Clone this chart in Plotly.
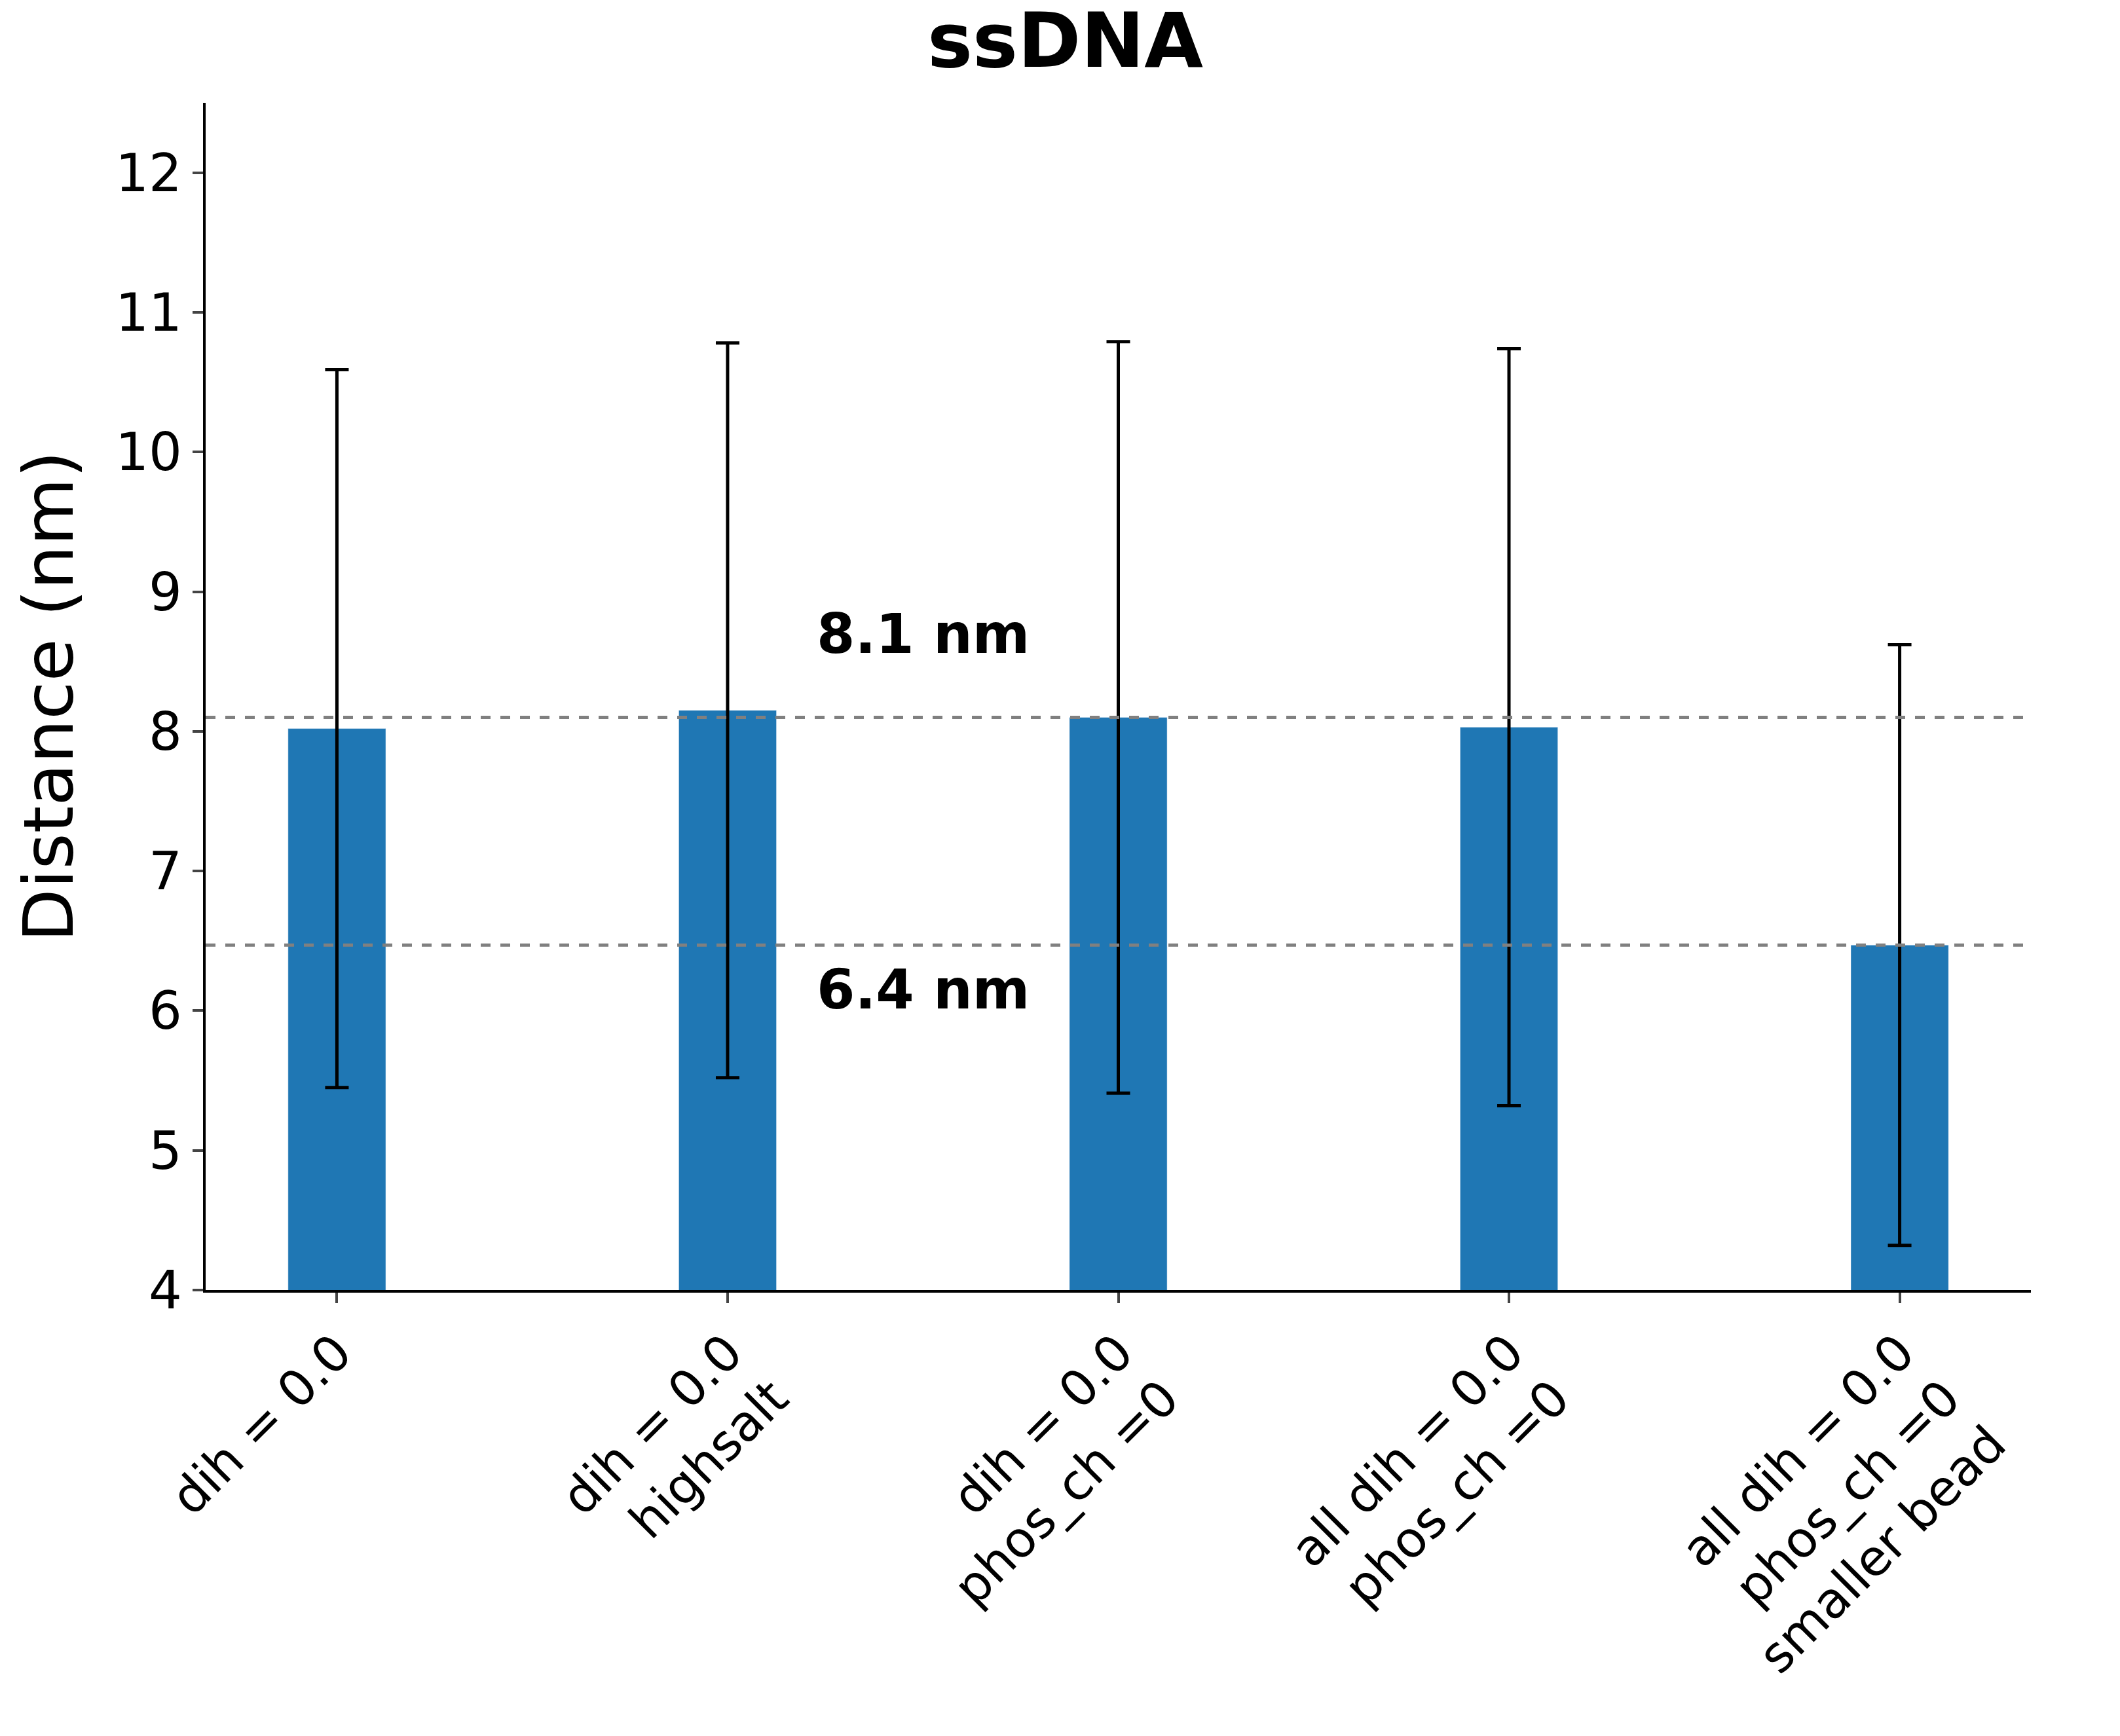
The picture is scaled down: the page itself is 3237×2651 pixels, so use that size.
import plotly.graph_objects as go

categories = ["dih = 0.0", "dih = 0.0<br>highsalt", "dih = 0.0<br>phos_ch =0",
              "all dih = 0.0<br>phos_ch =0", "all dih = 0.0<br>phos_ch =0<br>smaller bead"]
means = [8.02, 8.15, 8.10, 8.03, 6.47]
errors = [2.57, 2.63, 2.69, 2.71, 2.15]
ref_lines = [8.1, 6.47]
ref_labels = ["8.1 nm", "6.4 nm"]
ref_label_y = [8.7, 6.15]

xs = list(range(len(categories)))
font = "DejaVu Sans"

fig = go.Figure()
fig.add_trace(go.Bar(
    x=xs, y=means, width=0.25, marker_color="#1f77b4",
    error_y=dict(type="data", array=errors, color="black", thickness=5, width=18),
))
for y in ref_lines:
    fig.add_hline(y=y, line_dash="dash", line_color="grey", line_width=5)
for t, y in zip(ref_labels, ref_label_y):
    fig.add_annotation(x=1.5, y=y, text="<b>%s</b>" % t, showarrow=False,
                       font=dict(size=84, color="black", family=font))

fig.update_layout(
    width=3237, height=2651,
    margin=dict(l=306, r=144, t=149, b=689),
    plot_bgcolor="white", paper_bgcolor="white",
    title=dict(text="<b>ssDNA</b>", x=0.5, xanchor="center", y=0.995, yanchor="top",
               font=dict(size=116, family=font, color="black")),
    font=dict(family=font, color="black"),
    showlegend=False,
)
fig.update_xaxes(range=[-0.336, 4.336], tickvals=xs, ticktext=categories, tickangle=-45,
                 tickfont=dict(size=76), showline=True, linecolor="black", linewidth=4,
                 ticks="outside", ticklen=16, tickwidth=4, showgrid=False)
fig.update_yaxes(range=[4, 12.5], dtick=1, tickfont=dict(size=80), showline=True,
                 linecolor="black", linewidth=4, ticks="outside", ticklen=16, tickwidth=4,
                 showgrid=False, zeroline=False,
                 title=dict(text="Distance (nm)", font=dict(size=106), standoff=30))

fig.write_html("out.html")
